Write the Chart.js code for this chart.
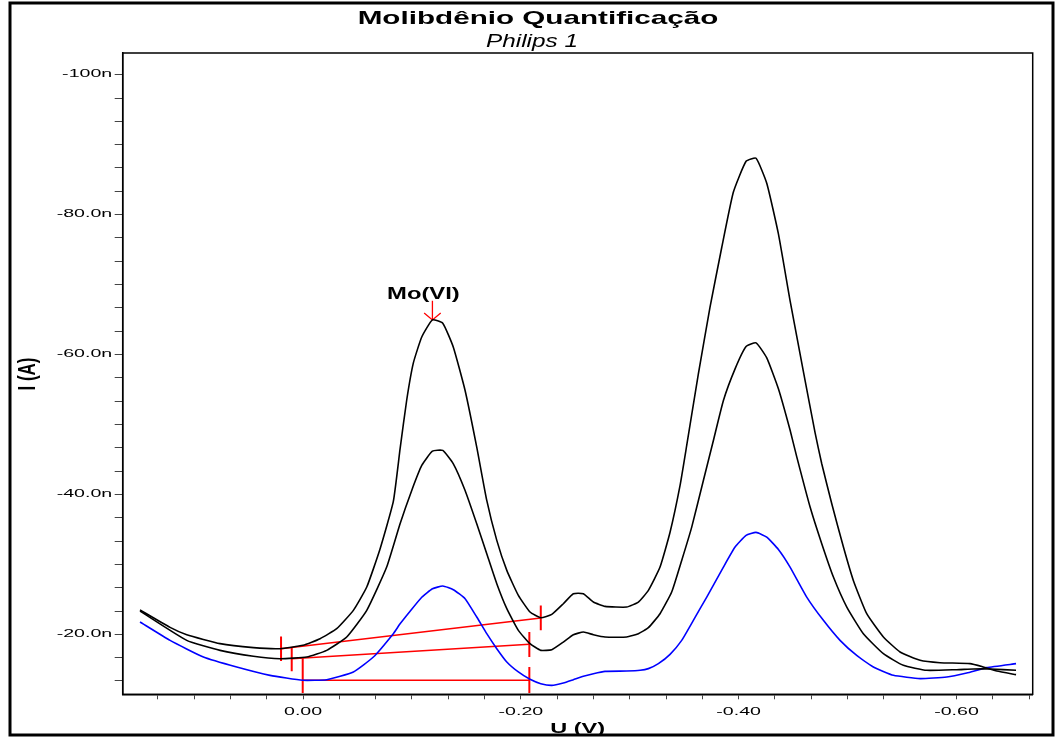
<!DOCTYPE html>
<html>
<head>
<meta charset="utf-8">
<title>Molibdênio Quantificação</title>
<script src="https://cdn.jsdelivr.net/npm/chart.js@4.4.1/dist/chart.umd.min.js"></script>
<style>
    html, body { margin: 0; padding: 0; background: #fff; }
    #voltamograma { display: block; }
</style>
</head>
<body>
<canvas id="voltamograma" width="1064" height="738"></canvas>
<script>
// ── Dados (U em V, I em nA) ─────────────────────────────────
const scanAlto = [
    [0.1497, -23.5], [0.1221, -21.0], [0.1068, -19.95], [0.0762, -18.67], [0.0456, -18.1],
    [0.0211, -17.95], [0.0, -18.43], [-0.0156, -19.38], [-0.0309, -20.81], [-0.0462, -23.43],
    [-0.0585, -26.76], [-0.0707, -32.2], [-0.0829, -39.0], [-0.0891, -46.5], [-0.0952, -53.5],
    [-0.1013, -58.8], [-0.1090, -62.5], [-0.1188, -64.95], [-0.1283, -64.48], [-0.1380, -61.05],
    [-0.1488, -54.86], [-0.1595, -46.76], [-0.1687, -39.14], [-0.1779, -33.43], [-0.1871, -29.14],
    [-0.1977, -25.57], [-0.2084, -23.19], [-0.2183, -22.38], [-0.2284, -22.86], [-0.2390, -24.38],
    [-0.2482, -25.81], [-0.2574, -25.81], [-0.2666, -24.62], [-0.2773, -24.0], [-0.2972, -23.9],
    [-0.3079, -24.62], [-0.3171, -26.29], [-0.3278, -29.62], [-0.3370, -34.6], [-0.3462, -41.3],
    [-0.3523, -47.0], [-0.3630, -57.24], [-0.3737, -66.76], [-0.3845, -75.33], [-0.3951, -83.19],
    [-0.4068, -87.62], [-0.4160, -88.05], [-0.4258, -84.48], [-0.4365, -77.24], [-0.4472, -67.71],
    [-0.4594, -57.6], [-0.4702, -48.8], [-0.4763, -44.38], [-0.4855, -38.66], [-0.4962, -32.48],
    [-0.5053, -27.71], [-0.5176, -22.95], [-0.5329, -19.62], [-0.5482, -17.48], [-0.5666, -16.29],
    [-0.5849, -15.95], [-0.6125, -15.81], [-0.6247, -15.33], [-0.6370, -14.76], [-0.6547, -14.24]
];

const scanMedio = [
    [0.1497, -23.33], [0.1068, -19.14], [0.0762, -17.71], [0.0456, -16.86], [0.0211, -16.52],
    [-0.0034, -16.76], [-0.0217, -17.71], [-0.0401, -19.62], [-0.0585, -23.43], [-0.0768, -29.62],
    [-0.0891, -35.81], [-0.0998, -40.57], [-0.1090, -44.14], [-0.1188, -46.19], [-0.1283, -46.29],
    [-0.1380, -44.38], [-0.1488, -40.57], [-0.1595, -35.81], [-0.1687, -31.52], [-0.1779, -27.24],
    [-0.1871, -23.67], [-0.1977, -20.57], [-0.2084, -18.67], [-0.2183, -17.71], [-0.2284, -17.81],
    [-0.2390, -18.9], [-0.2482, -19.95], [-0.2574, -20.33], [-0.2666, -19.95], [-0.2773, -19.62],
    [-0.2972, -19.62], [-0.3079, -20.1], [-0.3171, -20.95], [-0.3278, -22.95], [-0.3385, -26.05],
    [-0.3477, -30.57], [-0.3569, -35.33], [-0.3676, -42.0], [-0.3768, -47.71], [-0.3860, -53.43],
    [-0.3967, -57.95], [-0.4068, -61.14], [-0.4160, -61.67], [-0.4258, -59.52], [-0.4365, -55.1],
    [-0.4472, -49.2], [-0.4533, -45.4], [-0.4656, -38.19], [-0.4763, -32.95], [-0.4870, -28.19],
    [-0.4993, -23.9], [-0.5145, -20.09], [-0.5329, -17.24], [-0.5512, -15.57], [-0.5727, -14.86],
    [-0.6003, -14.95], [-0.6155, -15.05], [-0.6309, -15.05], [-0.6547, -14.86]
];

const scanAzul = [
    [0.1497, -21.76], [0.1221, -19.14], [0.0915, -16.76], [0.0609, -15.33], [0.0303, -14.14],
    [0.0003, -13.43], [-0.0217, -13.52], [-0.0462, -14.62], [-0.0646, -16.76], [-0.0829, -20.1],
    [-0.0891, -21.5], [-0.0983, -23.3], [-0.1090, -25.3], [-0.1188, -26.52], [-0.1283, -26.9],
    [-0.1380, -26.38], [-0.1488, -25.1], [-0.1595, -22.48], [-0.1687, -20.1], [-0.1779, -17.95],
    [-0.1871, -16.05], [-0.1977, -14.62], [-0.2084, -13.57], [-0.2183, -12.95], [-0.2284, -12.71],
    [-0.2390, -13.05], [-0.2482, -13.52], [-0.2574, -14.0], [-0.2666, -14.38], [-0.2773, -14.71],
    [-0.2972, -14.76], [-0.3095, -14.86], [-0.3171, -15.1], [-0.3263, -15.81], [-0.3370, -17.14],
    [-0.3477, -19.14], [-0.3584, -22.0], [-0.3707, -25.33], [-0.3860, -29.62], [-0.3967, -32.48],
    [-0.4068, -34.14], [-0.4160, -34.57], [-0.4258, -33.9], [-0.4365, -32.14], [-0.4472, -29.62],
    [-0.4625, -25.33], [-0.4778, -22.0], [-0.4931, -19.14], [-0.5084, -16.98], [-0.5237, -15.33],
    [-0.5421, -14.14], [-0.5666, -13.67], [-0.5911, -13.9], [-0.6094, -14.48], [-0.6278, -15.24],
    [-0.6547, -15.81]
];

// linhas de base (inicio, fim) e altura dos tracinhos [I min, I max]
const baseInicio = [[0.0202, -17.95], [0.0104, -16.52], [0.0003, -13.43]];
const baseFim = [[-0.2183, -22.33], [-0.2078, -18.57], [-0.2078, -13.43]];
const tracoInicio = [[-19.71, -16.19], [-18.19, -14.71], [-16.57, -11.62]];
const tracoFim = [[-24.14, -20.57], [-20.33, -16.76], [-15.33, -11.62]];

// pico marcado
const picoU = -0.1188;
const picoI = -64.95;
const setaTopoI = -67.7;
const setaAsa = [0.0076, -1.0];
const picoNome = 'Mo(VI)';

// eixos
const xMin = -0.670, xMax = 0.1656;
const yMin = -103.1, yMax = -11.43;
const xMajor = [0, -0.2, -0.4, -0.6];
const xLabels = ['0.00', '-0.20', '-0.40', '-0.60'];
const yMajor = [-100, -80, -60, -40, -20];
const yLabels = ['-100n', '-80.0n', '-60.0n', '-40.0n', '-20.0n'];

const FONT = '"Liberation Sans", Arial, sans-serif';

// ── Helpers ─────────────────────────────────────────────────
const toPts = arr => arr.map(p => ({ x: p[0], y: p[1] }));

function minorTicks(min, max, step) {
    const out = [];
    const k0 = Math.ceil(min / step - 1e-6), k1 = Math.floor(max / step + 1e-6);
    for (let k = k0; k <= k1; k++) out.push({ value: k * step });
    return out;
}

function stretchText(ctx, text, x, y, sx, align, font) {
    ctx.save();
    ctx.translate(x, y);
    ctx.scale(sx, 1);
    ctx.font = font;
    ctx.textAlign = align;
    ctx.textBaseline = 'alphabetic';
    ctx.fillText(text, 0, 0);
    ctx.restore();
}

function segment(a, b, color, width) {
    return {
        data: [{ x: a[0], y: a[1] }, { x: b[0], y: b[1] }],
        borderColor: color, borderWidth: width, pointRadius: 0, tension: 0, fill: false
    };
}

// ── Datasets ────────────────────────────────────────────────
const curva = (arr, color) => ({
    data: toPts(arr), borderColor: color, borderWidth: 1.6,
    pointRadius: 0, tension: 0.15, fill: false
});

const datasets = [curva(scanAlto, '#000000'), curva(scanMedio, '#000000'), curva(scanAzul, '#0000ff')];

baseInicio.forEach((p, i) => {
    const q = baseFim[i];
    datasets.push(segment(p, q, '#ff0000', 1.5));
    datasets.push(segment([p[0], tracoInicio[i][0]], [p[0], tracoInicio[i][1]], '#ff0000', 2));
    datasets.push(segment([q[0], tracoFim[i][0]], [q[0], tracoFim[i][1]], '#ff0000', 2));
});

datasets.push(segment([picoU, setaTopoI], [picoU, picoI], '#ff0000', 1.3));
datasets.push({
    data: toPts([[picoU + setaAsa[0], picoI + setaAsa[1]], [picoU, picoI], [picoU - setaAsa[0], picoI + setaAsa[1]]]),
    borderColor: '#ff0000', borderWidth: 1.3, pointRadius: 0, tension: 0, fill: false
});

// ── Plugins ─────────────────────────────────────────────────
const molduraPlugin = {
    id: 'moldura',
    beforeDatasetsDraw(chart) {
        const { ctx, chartArea: a } = chart;
        ctx.save();
        ctx.strokeStyle = '#000';
        ctx.lineWidth = 3;
        ctx.strokeRect(10, 3, 1043, 732);
        ctx.lineWidth = 1.5;
        ctx.strokeRect(a.left, a.top, a.right - a.left, a.bottom - a.top);
        ctx.restore();
    }
};

const textoPlugin = {
    id: 'texto',
    afterDraw(chart) {
        const { ctx, chartArea: a, scales: { x, y } } = chart;
        ctx.save();
        ctx.fillStyle = '#000';

        stretchText(ctx, 'Molibdênio Quantificação', 538, 24, 1.56, 'center', `bold 19px ${FONT}`);
        stretchText(ctx, 'Philips 1', 532, 47, 1.35, 'center', `italic 18px ${FONT}`);

        yMajor.forEach((v, i) => {
            stretchText(ctx, yLabels[i], a.left - 10.5, y.getPixelForValue(v) + 2.5, 1.78, 'right', `11px ${FONT}`);
        });
        xMajor.forEach((v, i) => {
            stretchText(ctx, xLabels[i], x.getPixelForValue(v), 715, 1.78, 'center', `11px ${FONT}`);
        });

        stretchText(ctx, 'U (V)', (a.left + a.right) / 2, 733, 1.68, 'center', `bold 14px ${FONT}`);

        ctx.save();
        ctx.translate(35, 374);
        ctx.scale(1.4, 1);
        ctx.rotate(-Math.PI / 2);
        ctx.font = `bold 17px ${FONT}`;
        ctx.textAlign = 'center';
        ctx.fillText('I (A)', 0, 0);
        ctx.restore();

        const px = x.getPixelForValue(picoU), py = y.getPixelForValue(picoI);
        stretchText(ctx, picoNome, px - 9, py - 21, 1.4, 'center', `bold 17px ${FONT}`);
        ctx.restore();
    }
};

// ── Chart ───────────────────────────────────────────────────
function initGrafico() {
    const canvas = document.getElementById('voltamograma');
    new Chart(canvas, {
        type: 'line',
        data: { datasets },
        options: {
            responsive: false,
            animation: false,
            events: [],
            layout: { padding: { top: 53, right: 31.3, left: 0, bottom: 0 } },
            plugins: { legend: { display: false }, title: { display: false }, tooltip: { enabled: false } },
            scales: {
                x: {
                    type: 'linear', reverse: true, min: xMin, max: xMax,
                    afterBuildTicks: s => { s.ticks = minorTicks(xMin, xMax, 0.2 / 6); },
                    afterFit: s => { s.height = 738 - 694.3; },
                    ticks: { display: false, autoSkip: false },
                    grid: { drawOnChartArea: false, drawTicks: true, tickLength: 5, color: '#444', lineWidth: 1 },
                    border: { display: true, color: '#000', width: 1.5 }
                },
                y: {
                    type: 'linear', reverse: true, min: yMin, max: yMax,
                    afterBuildTicks: s => { s.ticks = minorTicks(yMin, yMax, 20 / 6); },
                    afterFit: s => { s.width = 122.7; },
                    ticks: { display: false, autoSkip: false },
                    grid: { drawOnChartArea: false, drawTicks: true, tickLength: 8, color: '#444', lineWidth: 1 },
                    border: { display: true, color: '#000', width: 1.5 }
                }
            }
        },
        plugins: [molduraPlugin, textoPlugin]
    });
}

document.addEventListener('DOMContentLoaded', initGrafico);
</script>
</body>
</html>
